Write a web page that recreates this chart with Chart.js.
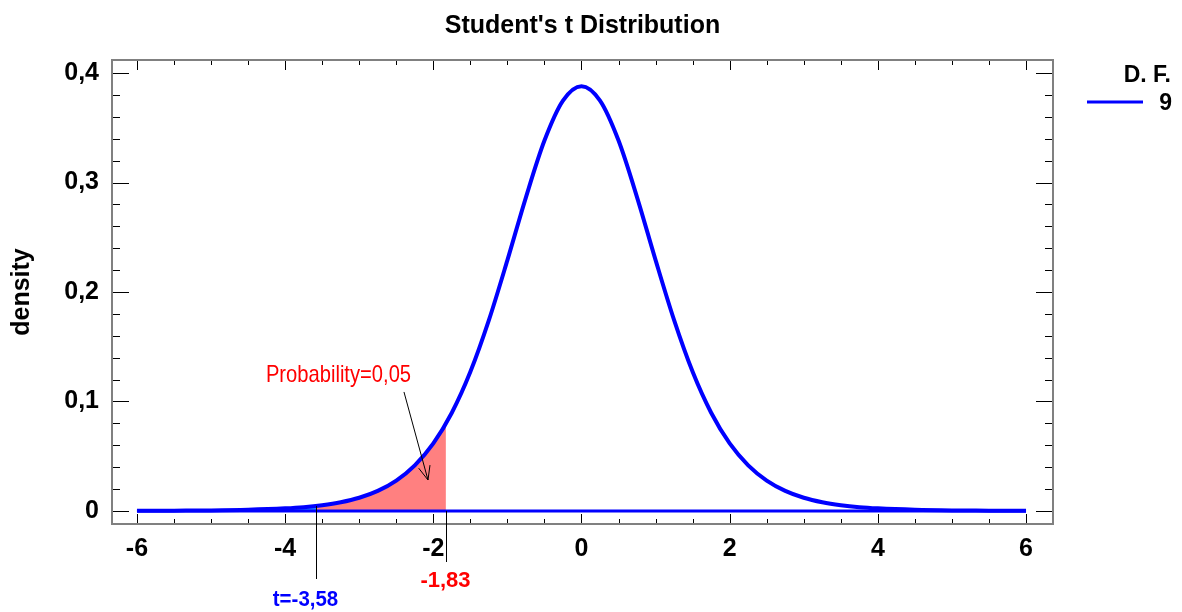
<!DOCTYPE html>
<html>
<head>
<meta charset="utf-8">
<script src="https://cdn.jsdelivr.net/npm/chart.js@4"></script>
<style>
body { margin: 0; background: #fff; }
#wrap { width: 1182px; height: 612px; }
</style>
</head>
<body>
<div id="wrap"><canvas id="myChart"></canvas></div>
<script>
// t values and density (9 degrees of freedom)
var tValues = [-6, -5.5, -5, -4.5, -4, -3.75, -3.5, -3.25, -3, -2.75, -2.5, -2.25, -2, -1.75, -1.5, -1.25, -1, -0.75, -0.5, -0.25,
  0, 0.25, 0.5, 0.75, 1, 1.25, 1.5, 1.75, 2, 2.25, 2.5, 2.75, 3, 3.25, 3.5, 3.75, 4, 4.5, 5, 5.5, 6];
var density = [0.0001, 0.0003, 0.0005, 0.0011, 0.0024, 0.0035, 0.0053, 0.0080, 0.0121, 0.0184, 0.0278, 0.0417, 0.0617, 0.0897, 0.1271, 0.1743, 0.2291, 0.2865, 0.3383, 0.3748,
  0.3880, 0.3748, 0.3383, 0.2865, 0.2291, 0.1743, 0.1271, 0.0897, 0.0617, 0.0417, 0.0278, 0.0184, 0.0121, 0.0080, 0.0053, 0.0035, 0.0024, 0.0011, 0.0005, 0.0003, 0.0001];

// shaded region between t=-3,58 and -1,83
var redX = [-3.58, -3.5, -3.25, -3, -2.75, -2.5, -2.25, -2, -1.83];
var redY = [0.0046, 0.0053, 0.0080, 0.0121, 0.0184, 0.0278, 0.0417, 0.0617, 0.0798];
// shaded far tail below t=-3,58
var blueX = [-6, -5.5, -5, -4.5, -4, -3.75, -3.58];
var blueY = [0.0001, 0.0003, 0.0005, 0.0011, 0.0024, 0.0035, 0.0046];

var xTicks = [-6, -4, -2, 0, 2, 4, 6];
var yTicks = [0, 0.1, 0.2, 0.3, 0.4];
var xMinorStep = 0.5;
var yMinorStep = 0.02;

var chartTitle = "Student's t Distribution";
var legendTitle = "D. F.";
var dfLabels = ["9"];
var tCrit = -3.58, tCritLabel = "t=-3,58";
var tLimit = -1.83, tLimitLabel = "-1,83";
var probLabel = "Probability=0,05";

function pts(xs, ys) {
  return xs.map(function (x, i) { return { x: x, y: ys[i] }; });
}
function comma(v) {
  return String(Math.round(v * 100) / 100).replace('.', ',');
}

var decor = {
  id: 'decor',
  afterDatasetsDraw: function (chart) {
    var c = chart.ctx, a = chart.chartArea;
    var xs = chart.scales.x, ys = chart.scales.y;
    c.save();

    // inward ticks on all four sides
    c.strokeStyle = '#000';
    c.lineWidth = 1;
    c.beginPath();
    for (var v = xTicks[0]; v <= xTicks[xTicks.length - 1] + 1e-9; v += xMinorStep) {
      var major = xTicks.some(function (t) { return Math.abs(t - v) < 1e-9; });
      var len = major ? 10 : 5;
      var px = Math.round(xs.getPixelForValue(v)) + 0.5;
      c.moveTo(px, a.bottom); c.lineTo(px, a.bottom - len);
      c.moveTo(px, a.top); c.lineTo(px, a.top + len);
    }
    for (var w = yTicks[0]; w <= yTicks[yTicks.length - 1] + 1e-9; w += yMinorStep) {
      var majorY = yTicks.some(function (t) { return Math.abs(t - w) < 1e-9; });
      var lenY = majorY ? 17 : 8;
      var py = Math.round(ys.getPixelForValue(w)) + 0.5;
      c.moveTo(a.left, py); c.lineTo(a.left + lenY, py);
      c.moveTo(a.right, py); c.lineTo(a.right - lenY, py);
    }
    c.stroke();

    // frame
    c.strokeStyle = '#808080';
    c.lineWidth = 2;
    c.strokeRect(a.left, a.top, a.right - a.left, a.bottom - a.top);

    // marker lines below the axis
    c.strokeStyle = '#000';
    c.lineWidth = 1;
    var x1 = Math.round(xs.getPixelForValue(tCrit)) + 0.5;
    var x2 = Math.round(xs.getPixelForValue(tLimit)) + 0.5;
    c.beginPath();
    c.moveTo(x1, ys.getPixelForValue(redY[0])); c.lineTo(x1, 579);
    c.moveTo(x2, ys.getPixelForValue(0)); c.lineTo(x2, 562);
    c.stroke();

    // arrow to the shaded area
    var sx = xs.getPixelForValue(-2.396), sy = ys.getPixelForValue(0.1087);
    var ex = xs.getPixelForValue(-2.072), ey = ys.getPixelForValue(0.0283);
    var ang = Math.atan2(ey - sy, ex - sx);
    c.beginPath();
    c.moveTo(sx, sy); c.lineTo(ex, ey);
    c.moveTo(ex - 15 * Math.cos(ang - 0.4), ey - 15 * Math.sin(ang - 0.4));
    c.lineTo(ex, ey);
    c.lineTo(ex - 15 * Math.cos(ang + 0.4), ey - 15 * Math.sin(ang + 0.4));
    c.stroke();

    c.textAlign = 'center';
    c.textBaseline = 'alphabetic';
    c.fillStyle = '#ff0000';
    // narrow face is not installed, so squeeze the regular one
    c.save();
    c.translate(xs.getPixelForValue(-3.28), ys.getPixelForValue(0.1178));
    c.scale(0.84, 1);
    c.font = '24px "Liberation Sans", Arial, sans-serif';
    c.fillText(probLabel, 0, 0);
    c.restore();
    c.font = 'bold 22px "Liberation Sans", Arial, sans-serif';
    c.fillText(tLimitLabel, x2 - 1, 587);
    c.fillStyle = '#0000ff';
    c.save();
    c.translate(x1 - 11, 606);
    c.scale(0.93, 1);
    c.fillText(tCritLabel, 0, 0);
    c.restore();

    // title
    c.fillStyle = '#000';
    c.font = 'bold 25px "Liberation Sans", Arial, sans-serif';
    c.fillText(chartTitle, (a.left + a.right) / 2, 33);

    // legend
    c.textAlign = 'right';
    c.font = 'bold 23px "Liberation Sans", Arial, sans-serif';
    c.fillText(legendTitle, 1171, 82);
    dfLabels.forEach(function (lab, i) {
      var ly = 102 + i * 28;
      c.fillText(lab, 1172, ly + 8);
      c.strokeStyle = '#0000ff';
      c.lineWidth = 3;
      c.beginPath(); c.moveTo(1087, ly); c.lineTo(1143, ly); c.stroke();
    });
    c.restore();
  }
};

var ctx = document.getElementById("myChart").getContext("2d");

var myChart = new Chart(ctx, {
  type: "line",
  data: {
    datasets: [{
      label: dfLabels[0],
      data: pts(tValues, density),
      borderColor: 'rgb(0, 0, 255)',
      borderWidth: 4,
      pointRadius: 0,
      fill: false,
      cubicInterpolationMode: 'monotone'
    }, {
      data: pts([-6, 6], [0, 0]),
      borderColor: 'rgb(0, 0, 255)',
      borderWidth: 3,
      pointRadius: 0,
      fill: false
    }, {
      data: pts(redX, redY),
      borderWidth: 0,
      borderColor: 'rgba(0,0,0,0)',
      backgroundColor: 'rgb(255, 128, 128)',
      pointRadius: 0,
      fill: 'origin',
      cubicInterpolationMode: 'monotone'
    }, {
      data: pts(blueX, blueY),
      borderWidth: 0,
      borderColor: 'rgba(0,0,0,0)',
      backgroundColor: 'rgb(30, 144, 255)',
      pointRadius: 0,
      fill: 'origin',
      cubicInterpolationMode: 'monotone'
    }]
  },
  options: {
    responsive: true,
    maintainAspectRatio: false,
    animation: false,
    layout: { padding: { top: 60, right: 129, left: 0, bottom: 0 } },
    plugins: {
      legend: { display: false },
      tooltip: { enabled: false },
      title: { display: false }
    },
    scales: {
      x: {
        type: 'linear',
        min: -6.337,
        max: 6.364,
        grid: { display: false, drawTicks: false },
        border: { display: false },
        ticks: {
          color: '#000',
          font: { family: '"Liberation Sans", Arial, sans-serif', size: 25, weight: 'bold' },
          padding: 10,
          autoSkip: false,
          maxRotation: 0,
          callback: function (v) { return comma(v); }
        },
        afterBuildTicks: function (s) { s.ticks = xTicks.map(function (v) { return { value: v }; }); },
        afterFit: function (s) { s.height = 88; }
      },
      y: {
        min: -0.0119,
        max: 0.4119,
        grid: { display: false, drawTicks: false },
        border: { display: false },
        ticks: {
          color: '#000',
          font: { family: '"Liberation Sans", Arial, sans-serif', size: 25, weight: 'bold' },
          padding: 13,
          callback: function (v) { return comma(v); }
        },
        title: {
          display: true,
          text: 'density',
          color: '#000',
          font: { family: '"Liberation Sans", Arial, sans-serif', size: 25, weight: 'bold' },
          padding: { top: 7, bottom: 0 }
        },
        afterBuildTicks: function (s) { s.ticks = yTicks.map(function (v) { return { value: v }; }); },
        afterFit: function (s) { s.width = 112; }
      }
    }
  },
  plugins: [decor]
});
</script>
</body>
</html>
